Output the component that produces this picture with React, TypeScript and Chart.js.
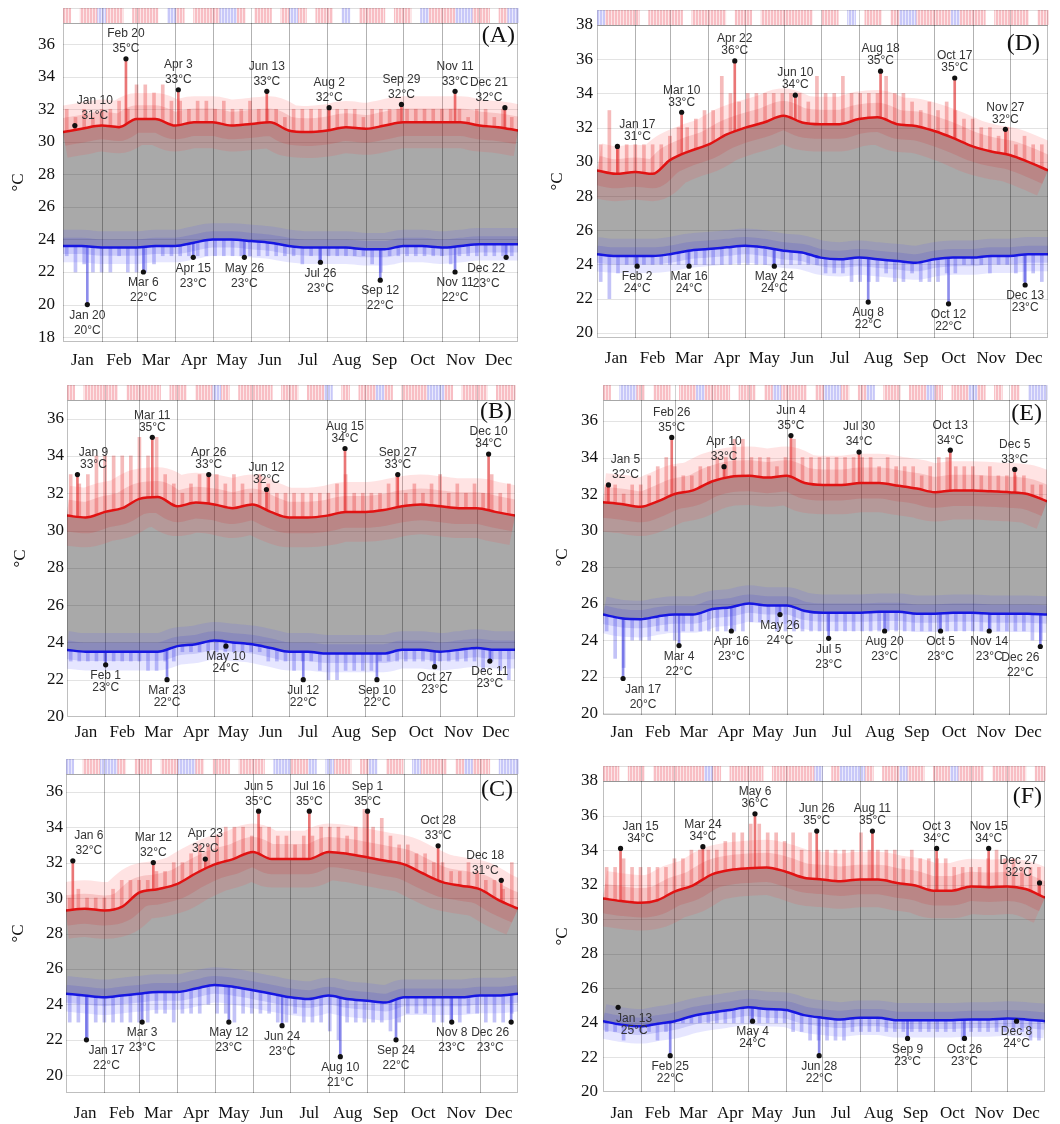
import React, { useEffect, useRef } from "react";
import { Chart, registerables } from "chart.js";
Chart.register(...registerables);

const SERIF = '"Liberation Serif", "Times New Roman", serif';
const SANS = '"Liberation Sans", Arial, sans-serif';

const MONTHS = ["Jan", "Feb", "Mar", "Apr", "May", "Jun", "Jul", "Aug", "Sep", "Oct", "Nov", "Dec"];
const MONTH_START = [0, 31, 59, 90, 120, 151, 181, 212, 243, 273, 304, 334, 365];
const AVG_DAYS = [0, 15, 31, 45, 59, 74, 90, 105, 120, 135, 151, 166, 181, 196, 212, 227, 243, 258, 273, 288, 304, 319, 334, 349, 365];
const SPIKE_DAYS = [3, 10, 17, 24, 31, 38, 45, 52, 59, 66, 73, 80, 87, 94, 101, 108, 115, 122, 129, 136, 143, 150, 157, 164, 171, 178, 185, 192, 199, 206, 213, 220, 227, 234, 241, 248, 255, 262, 269, 276, 283, 290, 297, 304, 311, 318, 325, 332, 339, 346, 353, 360];
const SPLIT = 27.5;

const Y_TICKS_A = [18, 20, 22, 24, 26, 28, 30, 32, 34, 36];
const Y_TICKS_B = [20, 22, 24, 26, 28, 30, 32, 34, 36];
const Y_TICKS_C = [20, 22, 24, 26, 28, 30, 32, 34, 36];
const Y_TICKS_D = [20, 22, 24, 26, 28, 30, 32, 34, 36, 38];
const Y_TICKS_E = [20, 22, 24, 26, 28, 30, 32, 34, 36];
const Y_TICKS_F = [20, 22, 24, 26, 28, 30, 32, 34, 36, 38];

// ---------- Panel A ----------
const AVG_HI_A = [30.6, 30.8, 31.0, 30.9, 31.4, 31.4, 31.0, 31.2, 31.2, 31.0, 31.1, 31.2, 30.7, 30.6, 30.7, 30.9, 30.8, 31.0, 31.2, 31.2, 31.2, 31.2, 31.0, 30.9, 30.7];
const AVG_LO_A = [23.6, 23.6, 23.5, 23.5, 23.5, 23.6, 23.6, 23.8, 24.0, 24.0, 23.9, 23.8, 23.6, 23.5, 23.5, 23.5, 23.4, 23.4, 23.6, 23.6, 23.5, 23.6, 23.7, 23.7, 23.7];
const HI_A = [[32, 31.5, 32, 31.5], [32, 32, 32.5, 32], [33.5, 33.5, 33, 33.5, 32.5], [32.5, 32, 32.5, 32.5], [32, 32.5, 32, 32, 32.5], [32, 32, 32, 31.5], [32, 32, 32, 32], [32, 32, 32, 32, 31.5], [32, 32, 32, 32], [32, 32, 32, 32], [32, 32, 32, 31.5, 32], [32, 31.5, 32, 31.5]].flat();
const LO_A = [[23, 22, 22.5, 22], [22, 22, 23, 22], [22, 22, 22.5, 23, 23], [23, 23, 23, 23], [23, 23, 23, 23, 23], [23, 23, 23, 23], [23, 22.5, 23, 22.5], [23, 23, 23, 23, 23], [22.5, 22, 23, 23], [23, 23, 23, 23], [23, 22.5, 23, 23, 23], [23, 23, 23, 23]].flat();
const ANN_HI_A = [["Jan 10", 31, 31.0, 20], ["Feb 20", 35, 35.1, 0], ["Apr 3", 33, 33.2, 0], ["Jun 13", 33, 33.1, 0], ["Aug 2", 32, 32.1, 0], ["Sep 29", 32, 32.3, 0], ["Nov 11", 33, 33.1, 0], ["Dec 21", 32, 32.1, -16]];
const ANN_LO_A = [["Jan 20", 20, 20.0, 0], ["Mar 6", 22, 22.0, 0], ["Apr 15", 23, 22.9, 0], ["May 26", 23, 22.9, 0], ["Jul 26", 23, 22.6, 0], ["Sep 12", 22, 21.5, 0], ["Nov 11", 22, 22.0, 0], ["Dec 22", 23, 22.9, -20]];
const STRIP_A = ["rwrr", "brrw", "rrrwb", "rwrr", "rbbrw", "rrwr", "brwr", "rwbwr", "rrwr", "rwbr", "rrbbr", "rwrb"];

// ---------- Panel B ----------
const AVG_HI_B = [30.8, 30.7, 31.0, 31.2, 31.7, 31.8, 31.3, 31.5, 31.4, 31.2, 31.4, 31.0, 30.7, 30.7, 30.8, 31.0, 31.0, 31.1, 31.3, 31.4, 31.3, 31.2, 31.2, 31.0, 30.8];
const AVG_LO_B = [23.6, 23.5, 23.5, 23.5, 23.5, 23.5, 23.8, 23.9, 24.1, 24.0, 23.9, 23.7, 23.5, 23.5, 23.4, 23.4, 23.4, 23.4, 23.6, 23.6, 23.5, 23.6, 23.7, 23.6, 23.6];
const HI_B = [[33, 32.5, 33, 34], [34, 34, 34, 34], [35, 34, 35, 33, 32.5], [32, 32.5, 33, 33], [33, 32.5, 33, 32.5, 32], [33, 32.5, 32, 32], [32, 32, 32, 32], [32, 32.5, 33, 32, 32], [32, 32, 32.5, 33], [32, 32.5, 32, 32.5], [33, 32, 32.5, 32, 32.5], [32, 33, 32, 32.5]].flat();
const LO_B = [[23, 23, 23, 23], [23, 23, 23, 23], [23, 22.5, 22.5, 23, 23], [23.5, 23.5, 23.5, 23.5], [23.5, 23.5, 23.5, 23.5, 23.5], [23.5, 23, 23, 23], [22.5, 23, 23, 22.5], [22, 22, 22.5, 22.5, 22.5], [22.5, 23, 23, 23], [23, 23, 23, 23], [23, 23, 23, 23, 23], [22.5, 23, 22.5, 22]].flat();
const ANN_HI_B = [["Jan 9", 33, 33.0, 16], ["Mar 11", 35, 35.0, 0], ["Apr 26", 33, 33.0, 0], ["Jun 12", 32, 32.2, 0], ["Aug 15", 34, 34.4, 0], ["Sep 27", 33, 33.0, 0], ["Dec 10", 34, 34.1, 0]];
const ANN_LO_B = [["Feb 1", 23, 22.8, 0], ["Mar 23", 22, 22.0, 0], ["May 10", 24, 23.8, 0], ["Jul 12", 22, 22.0, 0], ["Sep 10", 22, 22.0, 0], ["Oct 27", 23, 22.7, 0], ["Dec 11", 23, 23.0, 0]];
const STRIP_B = ["rwrr", "rrwr", "rrrwr", "rwrr", "brwrr", "rrwr", "rwrr", "bwrwr", "rbrw", "rrrb", "brwrr", "rwrr"];

// ---------- Panel C ----------
const AVG_HI_C = [29.3, 29.4, 29.3, 29.5, 30.3, 30.5, 30.8, 31.4, 31.9, 32.2, 32.6, 32.2, 32.2, 32.2, 32.6, 32.5, 32.3, 32.1, 31.9, 31.4, 30.9, 30.7, 30.5, 29.9, 29.4];
const AVG_LO_C = [24.6, 24.5, 24.4, 24.5, 24.6, 24.7, 24.7, 24.9, 25.1, 25.0, 24.8, 24.6, 24.4, 24.3, 24.5, 24.3, 24.2, 24.1, 24.4, 24.4, 24.4, 24.4, 24.5, 24.5, 24.6];
const HI_C = [[30, 30.5, 30, 30], [30, 30.5, 31, 31], [31, 31, 31.5, 31.5, 32], [32, 32.5, 33, 33], [33.5, 34, 34, 34, 33.5], [34, 34, 33.5, 33.5], [33, 33.5, 33.5, 34], [34, 34, 33.5, 34, 35], [34, 34.5, 33.5, 33], [33, 32.5, 32.5, 32], [32, 31.5, 31.5, 32, 31.5], [31, 31, 30.5, 32]].flat();
const LO_C = [[23, 23, 22, 23], [23, 23, 23, 23], [23, 23, 23.5, 23.5, 23], [23.5, 23.5, 23.5, 24], [23.5, 23.5, 23, 23.5, 23.5], [23.5, 23.5, 23, 23], [23.5, 23, 23, 23], [22.5, 22, 23, 23, 23], [23, 23, 22.5, 23], [23.5, 23.5, 23.5, 23], [23, 23, 23, 23.5, 23.5], [23, 23, 23, 23.5]].flat();
const ANN_HI_C = [["Jan 6", 32, 32.1, 16], ["Mar 12", 32, 32.0, 0], ["Apr 23", 32, 32.2, 0], ["Jun 5", 35, 34.9, 0], ["Jul 16", 35, 34.9, 0], ["Sep 1", 35, 34.9, 0], ["Oct 28", 33, 32.95, 0], ["Dec 18", 31, 31.0, -16]];
const ANN_LO_C = [["Jan 17", 22, 22.0, 20], ["Mar 3", 23, 23.0, 0], ["May 12", 23, 23.0, 0], ["Jun 24", 23, 22.8, 0], ["Aug 10", 21, 21.05, 0], ["Sep 24", 22, 22.0, 0], ["Nov 8", 23, 23.0, 0], ["Dec 26", 23, 23.0, -21]];
const STRIP_C = ["bwrr", "bbrw", "rrwrr", "bbrw", "rrwrr", "rwbb", "rrbw", "brrwr", "bwrr", "wbrr", "rwrbr", "rwbb"];

// ---------- Panel D ----------
const AVG_HI_D = [29.5, 29.3, 29.4, 29.3, 30.1, 30.6, 31.0, 31.6, 32.0, 32.3, 32.7, 32.3, 32.2, 32.2, 32.5, 32.6, 32.2, 32.1, 31.8, 31.4, 30.9, 30.6, 30.4, 30.0, 29.5];
const AVG_LO_D = [24.6, 24.5, 24.5, 24.5, 24.6, 24.8, 24.9, 25.0, 25.1, 25.0, 24.8, 24.7, 24.4, 24.3, 24.4, 24.3, 24.2, 24.1, 24.3, 24.4, 24.4, 24.5, 24.5, 24.6, 24.6];
const HI_D = [[31, 33, 31, 31], [31, 31, 31, 31], [31.5, 32, 32, 32.5, 33], [33, 35, 34, 33.5], [34, 34, 34, 34, 34], [34, 34, 33.5, 35], [34, 34, 35, 34], [34, 34, 34, 35, 34], [34, 33.5, 33, 33.5], [33, 33.5, 33, 32.5], [32.5, 32, 32, 31.5, 32], [31, 31.5, 31, 31]].flat();
const LO_D = [[23, 22, 23.5, 24], [24, 24, 24, 24], [24, 24, 24, 24, 24], [24, 24, 24, 24], [24, 24, 24, 24, 24], [24, 24, 24, 24], [23.5, 23.5, 23.5, 23], [23, 23, 23, 23.5, 23], [23, 23.5, 23, 23], [23, 23.5, 23.5, 24], [24, 24, 23.5, 24, 24], [23.5, 23, 23.5, 23]].flat();
const ANN_HI_D = [["Jan 17", 31, 30.9, 20], ["Mar 10", 33, 32.9, 0], ["Apr 22", 36, 35.9, 0], ["Jun 10", 34, 33.9, 0], ["Aug 18", 35, 35.3, 0], ["Oct 17", 35, 34.9, 0], ["Nov 27", 32, 31.9, 0]];
const ANN_LO_D = [["Feb 2", 24, 23.9, 0], ["Mar 16", 24, 23.9, 0], ["May 24", 24, 23.9, 0], ["Aug 8", 22, 21.8, 0], ["Oct 12", 22, 21.7, 0], ["Dec 13", 23, 22.8, 0]];
const STRIP_D = ["brrr", "rwrr", "rrwrr", "rrwr", "rwrrr", "rrrw", "rrwb", "wrrwr", "bbrr", "rrbr", "rrwrr", "rrwr"];

// ---------- Panel E ----------
const AVG_HI_E = [31.55, 31.45, 31.3, 31.6, 32.0, 32.2, 32.7, 32.95, 33.0, 32.9, 33.0, 32.6, 32.5, 32.5, 32.6, 32.6, 32.45, 32.3, 32.1, 32.2, 32.2, 32.15, 32.1, 32.0, 31.6];
const AVG_LO_E = [25.4, 25.2, 25.15, 25.3, 25.4, 25.4, 25.7, 25.8, 26.0, 25.9, 25.9, 25.6, 25.5, 25.5, 25.5, 25.55, 25.55, 25.45, 25.45, 25.5, 25.5, 25.45, 25.45, 25.45, 25.4];
const HI_E = [[32.5, 32.5, 32, 32.5], [32.5, 33, 33.5, 34], [33.5, 33, 33, 33.5, 33.5], [34, 34, 35, 35], [34, 34, 34, 33.5, 34], [35, 34, 34, 34], [34, 34, 34, 34], [34, 34, 33.5, 34, 33.5], [33.5, 33.5, 33, 33.5], [34, 34, 33.5, 33.5], [33.5, 33, 33.5, 33, 33], [33, 33, 32.5, 32.5]].flat();
const LO_E = [[24.5, 23, 22.5, 24], [24, 24, 24.5, 24.5], [24, 24.5, 24.5, 24.5, 24.5], [24.5, 24.5, 24.5, 24.5], [25, 25, 25, 24.5, 24.5], [24.5, 24.5, 24.5, 24.5], [24.5, 24.5, 24.5, 24.5], [24.5, 24.5, 24.5, 24.5, 24.5], [24.5, 24.5, 24.5, 24.5], [24.5, 24.5, 24.5, 24.5], [24.5, 24.5, 24.5, 24.5, 24.5], [24.5, 24.5, 24, 24]].flat();
const ANN_HI_E = [["Jan 5", 32, 32.5, 17], ["Feb 26", 35, 35.1, 0], ["Apr 10", 33, 33.5, 0], ["Jun 4", 35, 35.2, 0], ["Jul 30", 34, 34.3, 0], ["Oct 13", 34, 34.4, 0], ["Dec 5", 33, 33.35, 0]];
const ANN_LO_E = [["Jan 17", 20, 21.9, 20], ["Mar 4", 22, 23.7, 0], ["Apr 16", 23, 24.5, 0], ["May 26", 24, 25.4, 0], ["Jul 5", 23, 24.1, 0], ["Aug 20", 23, 24.5, 0], ["Oct 5", 23, 24.5, 0], ["Nov 14", 23, 24.5, 0], ["Dec 26", 22, 23.65, -20]];
const STRIP_E = ["rwbb", "rwrr", "wrrbr", "rrwr", "rwrbr", "rrwr", "bbrw", "rbwrr", "wrrb", "rwrr", "brwrw", "rwbb"];

// ---------- Panel F ----------
const AVG_HI_F = [31.2, 31.05, 30.95, 31.1, 31.6, 31.95, 32.6, 32.85, 32.95, 33.0, 32.75, 32.4, 32.3, 32.2, 32.3, 32.3, 32.1, 31.95, 31.65, 31.65, 31.9, 31.85, 31.9, 31.75, 31.25];
const AVG_LO_F = [24.1, 23.9, 23.8, 23.95, 24.1, 24.4, 24.6, 24.75, 24.9, 24.8, 24.75, 24.45, 24.3, 24.2, 24.3, 24.3, 24.15, 24.15, 24.15, 24.15, 24.2, 24.2, 24.25, 24.2, 24.1];
const HI_F = [[33, 33, 33.5, 33], [33, 33, 33, 33], [33.5, 33.5, 34, 34, 34], [34, 34.5, 35, 35], [35.5, 35.5, 35, 35, 34.5], [35, 34, 35, 34], [34, 34, 34, 34], [35, 34, 34, 34, 34], [33.5, 34, 33.5, 33.5], [33.5, 33.5, 33, 33], [33, 33, 33.5, 34, 33.5], [33.5, 33, 33, 33]].flat();
const LO_F = [[23.5, 23.5, 23, 23.5], [23.5, 23.5, 23, 23.5], [24, 24, 24, 24, 24], [24, 24, 24, 24], [24, 24, 24, 24, 24], [23.5, 23.5, 23, 23], [23, 23, 23, 23.5], [23.5, 23.5, 23.5, 23.5, 23.5], [23.5, 23.5, 23.5, 23.5], [23.5, 23.5, 23.5, 23], [23.5, 23.5, 23.5, 23.5, 23.5], [23.5, 23.5, 23, 23]].flat();
const ANN_HI_F = [["Jan 15", 34, 34.1, 20], ["Mar 24", 34, 34.2, 0], ["May 6", 36, 36.1, 0], ["Jun 26", 35, 35.1, 0], ["Aug 11", 35, 35.1, 0], ["Oct 3", 34, 34.1, 0], ["Nov 15", 34, 34.1, 0], ["Dec 27", 32, 32.1, -21]];
const ANN_LO_F = [["Jan 13", 25, 24.9, 16], ["Feb 25", 22, 22.1, 0], ["May 4", 24, 24.1, 0], ["Jun 28", 22, 22.1, 0], ["Sep 9", 23, 23.1, 0], ["Oct 26", 23, 23.1, 0], ["Dec 8", 24, 24.1, 0]];
const STRIP_F = ["rrwr", "rwrr", "rrrrb", "rwrr", "rrwrr", "rrrb", "wrbb", "brwrr", "brrw", "rrbr", "rrwrr", "rrwr"];

// ---------- panel configuration (data + layout) ----------
const PANELS: any[] = [
  { id: "A", yMin: 17.7, yMax: 37.3, yTicks: Y_TICKS_A, hi: AVG_HI_A, lo: AVG_LO_A, hiSpk: HI_A, loSpk: LO_A, annHi: ANN_HI_A, annLo: ANN_LO_A, strip: STRIP_A,
    L: { box: [0, 0, 525, 372], axisW: 63, padTop: 23, padRight: 7, xH: 30, tickPad: 8, monthPad: 8, titlePad: 8, letterDy: 13, letterDx: 3, gap: 15 } },
  { id: "B", yMin: 20, yMax: 37, yTicks: Y_TICKS_B, hi: AVG_HI_B, lo: AVG_LO_B, hiSpk: HI_B, loSpk: LO_B, annHi: ANN_HI_B, annLo: ANN_LO_B, strip: STRIP_B,
    L: { box: [0, 375, 525, 373], axisW: 67, padTop: 25, padRight: 10, xH: 31, tickPad: 3, monthPad: 5, titlePad: 10, letterDy: 12, letterDx: 3, gap: 12 } },
  { id: "C", yMin: 19, yMax: 37, yTicks: Y_TICKS_C, hi: AVG_HI_C, lo: AVG_LO_C, hiSpk: HI_C, loSpk: LO_C, annHi: ANN_HI_C, annLo: ANN_LO_C, strip: STRIP_C,
    L: { box: [0, 750, 525, 374], axisW: 66, padTop: 24, padRight: 7, xH: 31, tickPad: 3, monthPad: 10, titlePad: 8, letterDy: 16, letterDx: 5, gap: 15 } },
  { id: "D", yMin: 19.7, yMax: 38, yTicks: Y_TICKS_D, hi: AVG_HI_D, lo: AVG_LO_D, hiSpk: HI_D, loSpk: LO_D, annHi: ANN_HI_D, annLo: ANN_LO_D, strip: STRIP_D,
    L: { box: [530, 0, 530, 372], axisW: 67, padTop: 25, padRight: 12, xH: 34, tickPad: 4, monthPad: 10, titlePad: 17, letterDy: 19, letterDx: 8, gap: 12 } },
  { id: "E", yMin: 19.9, yMax: 37.15, yTicks: Y_TICKS_E, hi: AVG_HI_E, lo: AVG_LO_E, hiSpk: HI_E, loSpk: LO_E, annHi: ANN_HI_E, annLo: ANN_LO_E, strip: STRIP_E,
    L: { box: [530, 375, 530, 373], axisW: 73, padTop: 25, padRight: 13, xH: 33, tickPad: 5, monthPad: 7, titlePad: 22, letterDy: 14, letterDx: 5, gap: 15 } },
  { id: "F", yMin: 20, yMax: 38, yTicks: Y_TICKS_F, hi: AVG_HI_F, lo: AVG_LO_F, hiSpk: HI_F, loSpk: LO_F, annHi: ANN_HI_F, annLo: ANN_LO_F, strip: STRIP_F,
    L: { box: [530, 750, 530, 374], axisW: 73, padTop: 31, padRight: 15, xH: 32, tickPad: 5, monthPad: 11, titlePad: 22, letterDy: 16, letterDx: 3, gap: 12 } },
];

const STRIP_COLORS: Record<string, string> = { r: "rgb(248,190,196)", b: "rgb(200,200,248)", w: "#ffffff" };

function dayOf(label: string): number {
  const [m, d] = label.split(" ");
  return MONTH_START[MONTHS.indexOf(m)] + Number(d) - 0.5;
}

function degPx(chart: any, deg: number): number {
  const y = chart.scales && chart.scales.y;
  if (!y) return 1;
  const v = Math.abs(y.getPixelForValue(0) - y.getPixelForValue(deg));
  return isFinite(v) && v > 0 ? v : 1;
}

function makeDeco(p: any) {
  const L = p.L;
  return {
    id: "deco" + p.id,
    afterDatasetDraw(chart: any, args: any) {
      const ds = chart.data.datasets[args.index];
      if (!ds || !ds.gridAfter) return;
      const { ctx, chartArea: a } = chart;
      const xs = chart.scales.x, ys = chart.scales.y;
      ctx.save();
      ctx.beginPath();
      ctx.rect(a.left, a.top, a.right - a.left, a.bottom - a.top);
      ctx.clip();
      ctx.lineWidth = 1;
      ctx.strokeStyle = "rgba(0,0,0,0.11)";
      for (const v of p.yTicks) {
        const y = Math.round(ys.getPixelForValue(v)) + 0.5;
        ctx.beginPath(); ctx.moveTo(a.left, y); ctx.lineTo(a.right, y); ctx.stroke();
      }
      ctx.strokeStyle = "rgba(0,0,0,0.3)";
      for (const d of MONTH_START.slice(1, 12)) {
        const x = Math.round(xs.getPixelForValue(d)) + 0.5;
        ctx.beginPath(); ctx.moveTo(x, a.top); ctx.lineTo(x, a.bottom); ctx.stroke();
      }
      ctx.restore();
    },
    afterDatasetsDraw(chart: any) {
      const { ctx, chartArea: a } = chart;
      const xs = chart.scales.x, ys = chart.scales.y;
      ctx.save();
      ctx.font = `12px ${SANS}`;
      ctx.fillStyle = "#333";
      ctx.textAlign = "center";
      ctx.textBaseline = "middle";
      for (const an of p.annHi) {
        const x = xs.getPixelForValue(dayOf(an[0])) + (an[3] || 0);
        const y = ys.getPixelForValue(an[2]);
        ctx.fillText(`${an[1]}°C`, x, y - 10);
        ctx.fillText(an[0], x, y - 10 - L.gap);
      }
      for (const an of p.annLo) {
        const x = xs.getPixelForValue(dayOf(an[0])) + (an[3] || 0);
        const y = ys.getPixelForValue(an[2]);
        ctx.fillText(an[0], x, y + 11);
        ctx.fillText(`${an[1]}°C`, x, y + 11 + L.gap);
      }
      ctx.font = `24px ${SERIF}`;
      ctx.fillStyle = "#111";
      ctx.textAlign = "right";
      ctx.fillText(`(${p.id})`, a.right - L.letterDx, a.top + L.letterDy);
      ctx.restore();
    },
    afterDraw(chart: any) {
      const { ctx, chartArea: a } = chart;
      const xs = chart.scales.x;
      const codes = p.strip.join("");
      const top = a.top - 15;
      ctx.save();
      for (let i = 0; i < SPIKE_DAYS.length; i++) {
        const d0 = i === 0 ? 0 : SPIKE_DAYS[i] - 3.5;
        const d1 = i === SPIKE_DAYS.length - 1 ? 365 : SPIKE_DAYS[i] + 3.5;
        const x0 = xs.getPixelForValue(d0), x1 = xs.getPixelForValue(d1);
        ctx.fillStyle = STRIP_COLORS[codes[i]] || "#fff";
        ctx.fillRect(x0, top, x1 - x0 + 0.5, 15);
      }
      // fine hatch texture so the strip reads as thin daily stripes
      ctx.fillStyle = "rgba(255,255,255,0.6)";
      for (let x = Math.floor(a.left) + 2; x < a.right; x += 3) {
        ctx.fillRect(x, top, 1, 15);
      }
      ctx.strokeStyle = "rgba(0,0,0,0.18)";
      ctx.lineWidth = 1;
      for (const d of MONTH_START.slice(1, 12)) {
        const x = Math.round(xs.getPixelForValue(d)) + 0.5;
        ctx.beginPath(); ctx.moveTo(x, top); ctx.lineTo(x, a.top); ctx.stroke();
      }
      ctx.strokeStyle = "rgba(0,0,0,0.13)";
      ctx.strokeRect(a.left + 0.5, top + 0.5, a.right - a.left - 1, 15);
      ctx.strokeStyle = "rgba(0,0,0,0.25)";
      ctx.strokeRect(a.left + 0.5, a.top + 0.5, a.right - a.left - 1, a.bottom - a.top - 1);
      ctx.restore();
    },
  };
}

function buildConfig(p: any): any {
  const L = p.L;
  const hiPts = p.hi.map((v: number, i: number) => ({ x: AVG_DAYS[i], y: v }));
  const loPts = p.lo.map((v: number, i: number) => ({ x: AVG_DAYS[i], y: v }));
  const lineBase = { type: "line", pointRadius: 0, pointHitRadius: 0, fill: false, cubicInterpolationMode: "monotone", borderJoinStyle: "round", clip: 0 };
  const datasets: any[] = [
    { type: "bar", data: p.hiSpk.map((v: number, i: number) => ({ x: SPIKE_DAYS[i], y: [SPLIT, v] })), backgroundColor: "rgba(232,90,90,0.42)", barThickness: 3, grouped: false, borderWidth: 0, order: 30 },
    { type: "bar", data: p.loSpk.map((v: number, i: number) => ({ x: SPIKE_DAYS[i], y: [v, SPLIT] })), backgroundColor: "rgba(105,105,235,0.4)", barThickness: 3, grouped: false, borderWidth: 0, order: 30 },
    { type: "bar", data: p.annHi.map((a: any) => ({ x: dayOf(a[0]), y: [SPLIT, a[2]] })), backgroundColor: "rgba(225,60,60,0.7)", barThickness: 2, grouped: false, borderWidth: 0, order: 29 },
    { type: "bar", data: p.annLo.map((a: any) => ({ x: dayOf(a[0]), y: [a[2], SPLIT] })), backgroundColor: "rgba(80,80,225,0.65)", barThickness: 2, grouped: false, borderWidth: 0, order: 29 },
    { ...lineBase, data: hiPts, fill: 5, backgroundColor: "#a9a9a9", borderColor: "rgba(0,0,0,0)", borderWidth: 0, order: 20, gridAfter: true },
    { ...lineBase, data: loPts, borderColor: "rgba(0,0,0,0)", borderWidth: 0, order: 19 },
    { ...lineBase, data: hiPts, borderColor: "rgba(255,70,70,0.15)", borderWidth: (c: any) => degPx(c.chart, 3.2), order: 15 },
    { ...lineBase, data: hiPts, borderColor: "rgba(215,40,40,0.17)", borderWidth: (c: any) => degPx(c.chart, 1.7), order: 14 },
    { ...lineBase, data: loPts, borderColor: "rgba(80,80,255,0.14)", borderWidth: (c: any) => degPx(c.chart, 2.0), order: 13 },
    { ...lineBase, data: loPts, borderColor: "rgba(50,50,220,0.16)", borderWidth: (c: any) => degPx(c.chart, 1.0), order: 12 },
    { ...lineBase, data: hiPts, borderColor: "rgb(225,18,18)", borderWidth: 2.5, order: 3 },
    { ...lineBase, data: loPts, borderColor: "rgb(22,22,225)", borderWidth: 2.5, order: 2 },
    { type: "scatter", data: [...p.annHi, ...p.annLo].map((a: any) => ({ x: dayOf(a[0]), y: a[2] })), pointRadius: 2.6, backgroundColor: "#111", borderColor: "#111", borderWidth: 0, showLine: false, order: 1 },
  ];
  return {
    type: "line",
    data: { datasets },
    plugins: [makeDeco(p)],
    options: {
      animation: false,
      responsive: false,
      devicePixelRatio: 1,
      events: [],
      layout: { padding: { top: L.padTop, right: L.padRight, left: 0, bottom: 0 } },
      plugins: { legend: { display: false }, tooltip: { enabled: false } },
      scales: {
        x: {
          type: "linear", min: 0, max: 365, offset: false,
          grid: { display: false, drawTicks: false }, border: { display: false },
          afterBuildTicks: (s: any) => { s.ticks = MONTHS.map((_, i) => ({ value: (MONTH_START[i] + MONTH_START[i + 1]) / 2 })); },
          ticks: { autoSkip: false, maxRotation: 0, padding: L.monthPad, color: "#111", font: { family: SERIF, size: 17 }, callback: (_v: any, i: number) => MONTHS[i] },
          afterFit: (s: any) => { s.height = L.xH; },
        },
        y: {
          type: "linear", min: p.yMin, max: p.yMax,
          grid: { display: false, drawTicks: false }, border: { display: false },
          afterBuildTicks: (s: any) => { s.ticks = p.yTicks.map((v: number) => ({ value: v })); },
          ticks: { padding: L.tickPad, color: "#111", font: { family: SERIF, size: 17 }, callback: (v: any) => String(v) },
          title: { display: true, text: "°C", color: "#111", font: { family: SERIF, size: 17 }, padding: { top: L.titlePad, bottom: 0 } },
          afterFit: (s: any) => { s.width = L.axisW; },
        },
      },
    },
  };
}

function Panel({ p }: { p: any }) {
  const ref = useRef<HTMLCanvasElement | null>(null);
  useEffect(() => {
    const chart = new Chart(ref.current as HTMLCanvasElement, buildConfig(p));
    return () => chart.destroy();
  }, [p]);
  const [bx, by, bw, bh] = p.L.box;
  return (
    <div style={{ position: "absolute", left: bx, top: by, width: bw, height: bh }}>
      <canvas ref={ref} width={bw} height={bh} style={{ width: bw, height: bh, display: "block" }} />
    </div>
  );
}

export default function App() {
  return (
    <div style={{ position: "absolute", left: 0, top: 0, width: 1060, height: 1124, background: "#fff" }}>
      {PANELS.map((p) => (
        <Panel key={p.id} p={p} />
      ))}
    </div>
  );
}
